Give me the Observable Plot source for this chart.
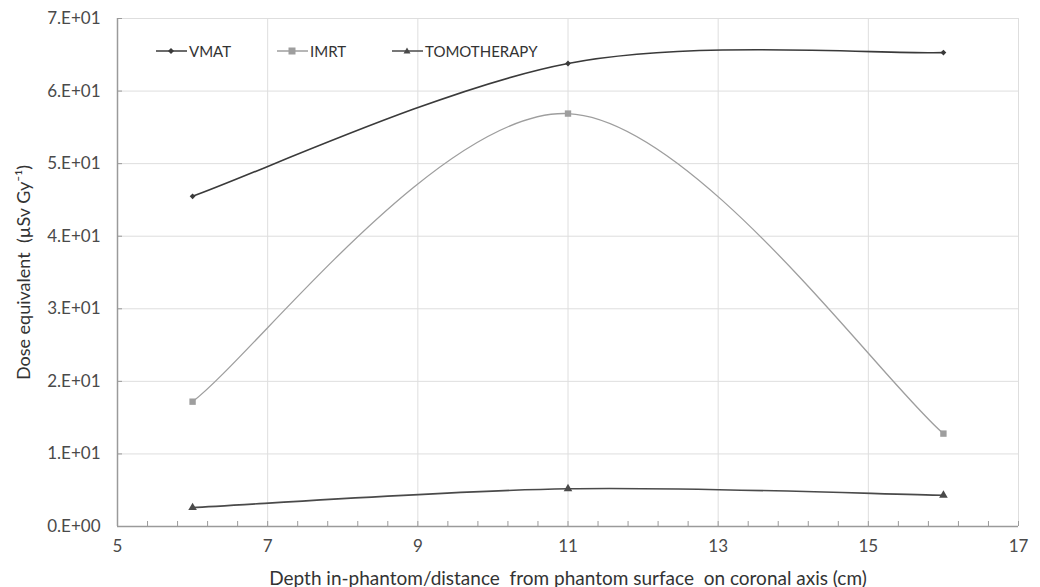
<!DOCTYPE html>
<html><head><meta charset="utf-8">
<script src="https://cdn.jsdelivr.net/npm/d3@7"></script>
<script src="https://cdn.jsdelivr.net/npm/@observablehq/plot@0.6"></script>
<style>
body{margin:0;background:#fff;font-family:Lato,"Open Sans",sans-serif;}
#wrap{position:relative;width:1040px;height:587px;}
.leg{position:absolute;top:42px;font-size:15px;color:#333;display:flex;align-items:center;}
.leg svg{margin-right:2px;}
</style></head>
<body><div id="wrap"></div>
<script>
const depths = [6, 11, 16];
const vmat = [45.5, 63.8, 65.3];
const imrt = [17.2, 56.9, 12.8];
const tomo = [2.6, 5.2, 4.3];
const seriesNames = ["VMAT", "IMRT", "TOMOTHERAPY"];
const yTicks = [0, 10, 20, 30, 40, 50, 60, 70];
const xTicks = [5, 7, 9, 11, 13, 15, 17];

const colors = {VMAT: "#3a3a3a", IMRT: "#9e9e9e", TOMOTHERAPY: "#4a4a4a"};
const symbols = {VMAT: "diamond2", IMRT: "square", TOMOTHERAPY: "triangle"};
const sizes = {VMAT: 2.6, IMRT: 3.6, TOMOTHERAPY: 3.2};
const values = {VMAT: vmat, IMRT: imrt, TOMOTHERAPY: tomo};
const data = seriesNames.flatMap(s => depths.map((d, i) => ({series: s, x: d, y: values[s][i]})));

// Spreadsheet-style smoothed line (Bezier, 1/6 tangents, endpoints duplicated)
function SmoothCurve(context) { this._context = context; }
SmoothCurve.prototype = {
  areaStart() { this._line = 0; },
  areaEnd() { this._line = NaN; },
  lineStart() { this._pts = []; },
  point(x, y) { this._pts.push([+x, +y]); },
  lineEnd() {
    const p = this._pts, n = p.length, c = this._context;
    if (n) {
      if (this._line) c.lineTo(p[0][0], p[0][1]); else c.moveTo(p[0][0], p[0][1]);
      for (let i = 0; i < n - 1; i++) {
        const a = p[Math.max(0, i - 1)], b = p[i], q = p[i + 1], d = p[Math.min(n - 1, i + 2)];
        c.bezierCurveTo(
          b[0] + (q[0] - a[0]) / 6, b[1] + (q[1] - a[1]) / 6,
          q[0] - (d[0] - b[0]) / 6, q[1] - (d[1] - b[1]) / 6,
          q[0], q[1]);
      }
    }
    if (this._line || (this._line !== 0 && n === 1)) c.closePath();
    this._line = 1 - this._line;
  }
};
const smooth = context => new SmoothCurve(context);

function sci(d) {
  if (d === 0) return "0.E+00";
  const e = Math.floor(Math.log10(d));
  const m = Math.round(d / Math.pow(10, e));
  return `${m}.E+${String(e).padStart(2, "0")}`;
}
const minor = d3.range(0, 31).map(i => 5 + i * 0.4);

const marks = [
  Plot.gridY(yTicks.filter(d => d > 0), {stroke: "#dedede", strokeOpacity: 1, strokeWidth: 1}),
  Plot.gridX(xTicks.filter(d => d > 5), {stroke: "#dedede", strokeOpacity: 1, strokeWidth: 1}),
  Plot.ruleX([5], {stroke: "#9a9a9a", strokeWidth: 1.5}),
  Plot.ruleY([0], {stroke: "#9a9a9a", strokeWidth: 1.5}),
  Plot.axisY({ticks: yTicks, tickSize: -5, text: null, label: null, stroke: "#9a9a9a"}),
  Plot.axisY({ticks: yTicks, tickSize: 0, tickPadding: 17, tickFormat: sci, fontSize: 17, fill: "#4a4a4a", label: null}),
  Plot.axisY({ticks: [], tickSize: 0, fontSize: 18, fill: "#333",
    label: "Dose equivalent  (µSv Gy⁻¹)", labelAnchor: "center", labelOffset: 100, labelArrow: "none"}),
  Plot.axisX({ticks: minor, tickSize: -5, text: null, label: null, stroke: "#9a9a9a"}),
  Plot.axisX({ticks: xTicks, tickSize: 0, tickPadding: 13, fontSize: 17, fill: "#4a4a4a", label: null}),
  Plot.axisX({ticks: [], tickSize: 0, fontSize: 19, fill: "#333",
    label: "Depth in-phantom/distance  from phantom surface  on coronal axis (cm)", labelAnchor: "center", labelOffset: 58, labelArrow: "none"}),
];
for (const s of seriesNames) {
  const rows = data.filter(r => r.series === s);
  marks.push(Plot.line(rows, {x: "x", y: "y", curve: smooth, stroke: colors[s], strokeWidth: s === "IMRT" ? 1.3 : 1.6}));
  marks.push(Plot.dot(rows, {x: "x", y: "y", symbol: symbols[s], r: sizes[s], fill: colors[s], stroke: "none"}));
}

const chart = Plot.plot({
  width: 1040, height: 587,
  marginLeft: 117, marginRight: 22, marginTop: 18, marginBottom: 61,
  x: {domain: [5, 17]},
  y: {domain: [0, 70]},
  style: {fontFamily: "Lato, 'Open Sans', sans-serif", fontSize: "14px", color: "#333"},
  marks
});
const wrap = document.getElementById("wrap");
wrap.appendChild(chart);

// legend overlay
const legPos = {VMAT: 156, IMRT: 277, TOMOTHERAPY: 392};
const symPaths = {
  VMAT: '<path d="M15,2 L18,5 L15,8 L12,5 Z" fill="#3a3a3a"/>',
  IMRT: '<rect x="11.5" y="1.5" width="7" height="7" fill="#9e9e9e"/>',
  TOMOTHERAPY: '<path d="M15,1.5 L18.5,7.5 L11.5,7.5 Z" fill="#4a4a4a"/>'
};
for (const s of seriesNames) {
  const div = document.createElement("div");
  div.className = "leg";
  div.style.left = legPos[s] + "px";
  div.innerHTML = `<svg width="31" height="10"><line x1="0" x2="31" y1="5" y2="5" stroke="${colors[s]}" stroke-width="1.5"/>${symPaths[s]}</svg><span>${s}</span>`;
  wrap.appendChild(div);
}
</script></body></html>
